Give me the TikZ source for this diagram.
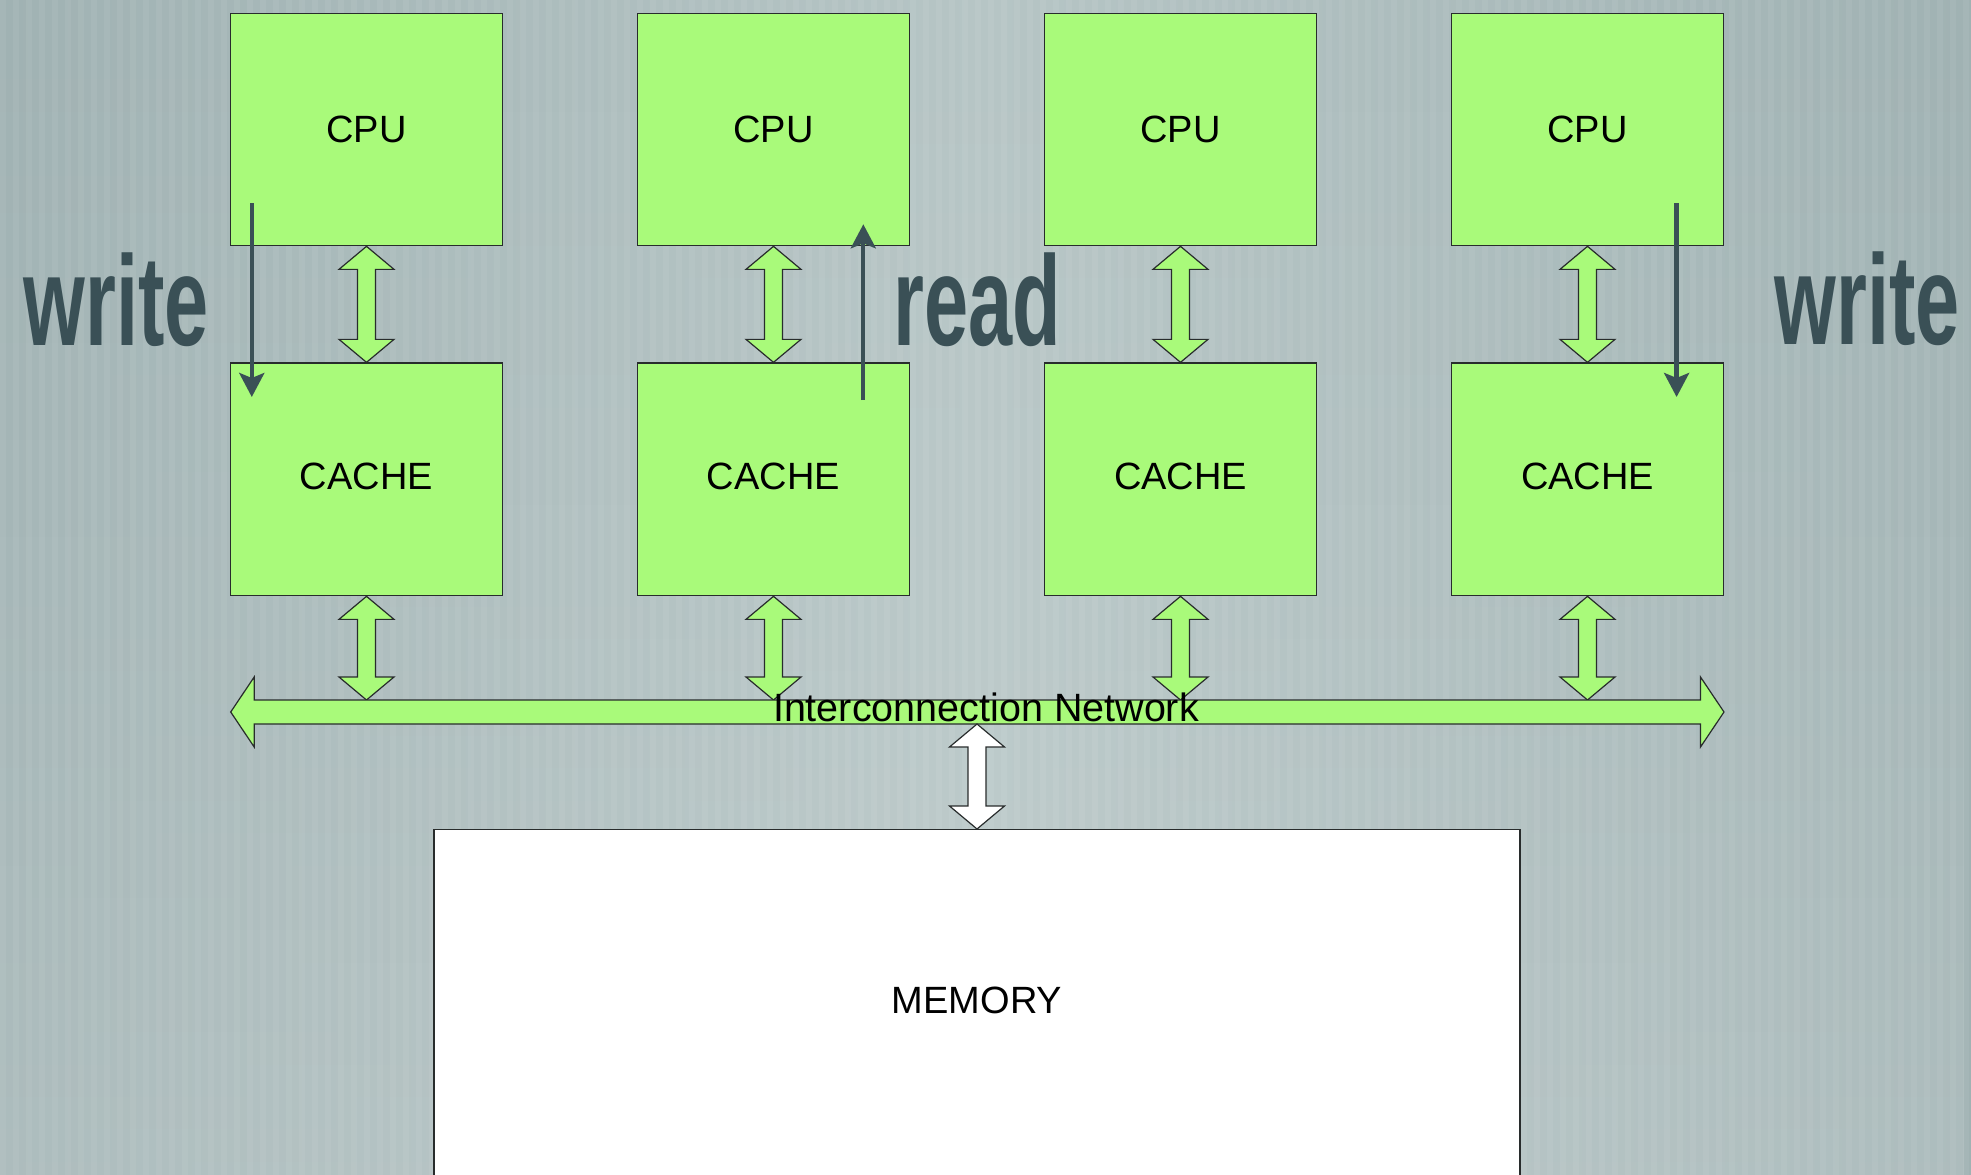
\documentclass[tikz,border=0pt]{standalone}
\usepackage{fontspec}
\setmainfont{Liberation Sans}
\usetikzlibrary{arrows.meta,calc,fadings}

\definecolor{boxgreen}{RGB}{169,250,122}
\definecolor{slate}{RGB}{58,80,86}
\definecolor{bgedge}{RGB}{160,178,179}
\definecolor{bgmid}{RGB}{182,197,197}
\definecolor{edgeline}{RGB}{40,44,44}

\tikzset{
  unitbox/.style={draw=edgeline, line width=1.3pt, fill=boxgreen,
    minimum width=272pt, inner sep=0pt, font=\fontsize{38}{46}\selectfont},
  cpubox/.style={unitbox, minimum height=232.4pt},
  cachebox/.style={unitbox, minimum height=232.7pt, text depth=6pt},
  membox/.style={draw=edgeline, line width=1.3pt, fill=white,
    minimum width=1086pt, minimum height=420pt, anchor=north},
  plaintext/.style={inner sep=0pt, font=\fontsize{38}{46}\selectfont},
  bigword/.style={text=slate, inner sep=0pt, anchor=base,
    font=\fontsize{128}{130}\selectfont\bfseries},
  flow/.style={draw=slate, line width=4.3pt,
    -{Stealth[length=24pt,width=25pt,inset=5pt]}},
  blockarrow/.style={draw=edgeline, line width=1.2pt, line join=miter, fill=boxgreen},
}

% vertical two-headed block arrow between two points (top, bottom)
\newcommand\blocklinkv[3][boxgreen]{%
  \path[blockarrow, fill=#1] let \p1=(#2), \p2=(#3) in
    (\x1,\y1) -- (\x1+27.5pt,\y1-23pt) -- (\x1+9pt,\y1-23pt)
    -- (\x1+9pt,\y2+23pt) -- (\x1+27.5pt,\y2+23pt) -- (\x1,\y2)
    -- (\x1-27.5pt,\y2+23pt) -- (\x1-9pt,\y2+23pt)
    -- (\x1-9pt,\y1-23pt) -- (\x1-27.5pt,\y1-23pt) -- cycle;}

\newcommand\condword[1]{\scalebox{0.62}[1]{#1}}

\begin{document}
\begin{tikzpicture}[x=1pt,y=-1pt]
  \useasboundingbox (0,0) rectangle (1971,1175);

  % striped grey background, lighter towards the bottom
  \shade[left color=bgedge, right color=bgedge, middle color=bgmid]
    (0,0) rectangle (1971,1175);
  \fill[white, fill opacity=0.14, path fading=north] (0,0) rectangle (1971,1175);
  \foreach \s in {0,...,151}
    \fill[white, opacity=0.06] ({\s*13},0) rectangle ++(6,1175);

  % processors and their caches
  \foreach \i in {1,...,4} {
    \node[cpubox]   (cpu\i)   at ({366.5+407*(\i-1)},129.5)  {CPU};
    \node[cachebox] (cache\i) at ({366.5+407*(\i-1)},479.35) {CACHE};
  }

  % bus geometry
  \coordinate (busL) at (230.7,712);
  \coordinate (busR) at (1724,712);
  \coordinate (bustop) at (0,700);
  \coordinate (busbot) at (0,724);

  % main memory
  \node[membox] (mem) at (977,829) {};
  \node[plaintext] (memtext) at (977,1000.6) {MEMORY};

  % CPU <-> cache and cache <-> bus links
  \foreach \i in {1,...,4} {
    \blocklinkv{cpu\i.south}{cache\i.north}
    \blocklinkv{cache\i.south}{cache\i.south |- bustop}
  }

  % interconnection network bus
  \path[blockarrow] let \p1=(busL), \p2=(busR) in
    (\x1,\y1) -- (\x1+23.5pt,\y1+35pt) -- (\x1+23.5pt,\y1+12pt)
    -- (\x2-23.5pt,\y1+12pt) -- (\x2-23.5pt,\y1+35pt) -- (\x2,\y1)
    -- (\x2-23.5pt,\y1-35pt) -- (\x2-23.5pt,\y1-12pt)
    -- (\x1+23.5pt,\y1-12pt) -- (\x1+23.5pt,\y1-35pt) -- cycle;
  \node[plaintext, anchor=base, font=\fontsize{39.5}{46}\selectfont]
    (net) at (986,721) {Interconnection Network};

  % bus <-> memory link
  \blocklinkv[white]{mem.north |- busbot}{mem.north}

  % write / read traffic
  \coordinate (w1a) at (251.8,203);
  \coordinate (w1b) at (251.8,397);
  \coordinate (rda) at (863.3,400);
  \coordinate (rdb) at (863.3,224.3);
  \coordinate (w2a) at (1676.6,203);
  \coordinate (w2b) at (1676.6,397);
  \draw[flow] (w1a) -- (w1b);
  \draw[flow] (rda) -- (rdb);
  \draw[flow] (w2a) -- (w2b);

  \node[bigword] (wleft)  at (116,345)   {\condword{write}};
  \node[bigword] (rdword) at (977,345.7) {\condword{read}};
  \node[bigword] (wright) at (1867,344.3) {\condword{write}};
\end{tikzpicture}
\end{document}
